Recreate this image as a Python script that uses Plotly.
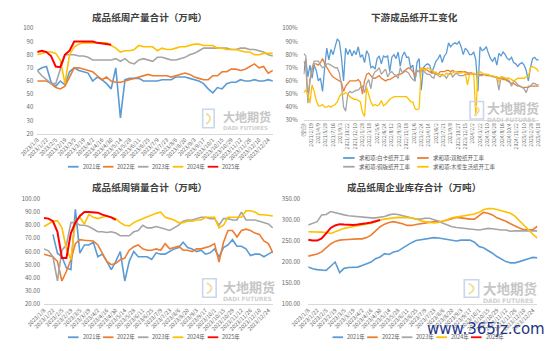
import pandas as pd
import plotly.graph_objects as go

W, H = 550, 351

# ---------------- data ----------------
WEEKS = [f"{d.year}/{d.month}/{d.day}" for d in pd.date_range("2023-01-08", periods=52, freq="7D")]
WEEK_TICKS = WEEKS[::2]
YEAR_NAMES = ["2021年", "2022年", "2023年", "2024年", "2025年"]
YEAR_COLORS = ["#5B9BD5", "#ED7D31", "#A5A5A5", "#FFC000", "#FF0000"]

# weekly output (10k t)
prod_2021 = [68, 70, 71, 59, 56, 60, 57, 67, 70, 68, 67, 66, 60, 63, 61, 58, 54, 70, 32, 61, 62, 62, 62, 60, 60, 60,
             60, 61, 61, 61, 63, 63, 63, 62, 61, 60, 58, 54, 51, 55, 54, 58, 59, 59, 61, 60, 60, 61, 60, 60, 61, 60]
prod_2022 = [60, 60, 60, 58, 55, 54, 56, 63, 70, 70, 69, 68, 67, 64, 61, 63, 60, 59, 59, 60, 61, 62, 63, 64, 65, 64,
             64, 64, 64, 63, 64, 65, 66, 65, 63, 62, 61, 61, 64, 64, 67, 67, 69, 69, 68, 69, 71, 73, 70, 71, 66, 68]
prod_2023 = [68, 64, 61, 58, 58, 70, 80, 80, 80, 79, 79, 78, 76, 76, 76, 76, 76, 77, 75, 77, 74, 73, 76, 77, 76, 75,
             78, 78, 77, 76, 76, 77, 78, 80, 81, 83, 85, 85, 85, 85, 85, 85, 84, 84, 85, 85, 84, 84, 83, 82, 80, 79]
prod_2024 = [80, 81, 82, 82, 81, 76, 58, 80, 86, 88, 89, 89, 89, 89, 89, 89, 87, 85, 82, 83, 83, 84, 87, 86, 86, 86,
             83, 85, 84, 84, 85, 86, 86, 87, 88, 88, 87, 87, 87, 85, 85, 84, 84, 84, 83, 82, 82, 80, 80, 81, 81, 81]
prod_2025 = [82, 83, 82, 79, 71, 70.5, 80, 83, 90, 90, 90, 90.5, 90, 89, 88.5, 88, 87.5]

# weekly sales (10k t)
sales_2021 = [None, None, 73, 58.7, 56, 47.5, 46.3, 92, 58.7, 65, 65, 67, 56, 58, 52.5, 46.3, 52.5, 60, 37.6, 52.5,
              60, 56, 56, 56, 54, 59, 58, 58, 60, 62, 63, 67, 63, 62, 60, 61, 58, 59, 62, 56, 63, 65, 69, 64, 64, 62,
              57, 58, 58, 56, 58, 60]
sales_2022 = [58, 57, 56, 52.5, 37.6, 45, 53.7, 66, 69, 68.5, 68.5, 68, 65, 58.7, 52.5, 50, 51, 53.7, 55, 61, 63.6,
              65, 62, 61, 61, 62, 61, 66, 62, 63, 64, 61, 61, 60, 62, 62, 63, 64, 66, 52, 67, 76, 76, 71, 76, 77, 76,
              74, 73, 68, 66, 59]
sales_2023 = [62, 60.5, 56, 37.6, 61, 65, 82, 82, 80, 80, 79, 77, 75, 75, 74.5, 75, 74, 72, 72, 72, 75, 76, 80, 78,
              78, 79, 78, 77, 76, 78, 80, 83, 84, 84, 85, 86, 86, 85, 85, 80, 85, 85, 84, 84, 90, 84, 84, 84, 83, 82,
              81, 78]
sales_2024 = [79, 81, 83, 83.5, 78, 62, 54, 83, 86, 81, 88, 86, 85, 86, 87, 86, 85, 82, 80, 79.5, 82, 83.5, 85, 86,
              88, 89, 90, 86, 85, 84, 82, 82, 83, 83, 84, 84, 86, 86, 86, 78, 80, 86, 86, 86, 86, 91, 91, 90, 88, 88,
              87.5, 87]
sales_2025 = [85.5, 85, 83, 75, 55, 55, 74, 82, 87, 90, 90, 89.5, 89.5, 88, 87, 86, 84]

# weekly inventory (10k t)
inv_2021 = [188, 184, 182, 181, 180, 190, 200, 175, 185, 187, 188, 188, 192, 196, 200, 208, 212, 220, 218, 224, 226,
            233, 240, 246, 251, 253, 255, 257, 258, 257, 255, 253, 251, 250, 252, 252, 252, 247, 237, 234, 228, 221,
            213, 206, 201, 198, 198, 201, 205, 208, 211, 210]
inv_2022 = [214, 216, 219, 224, 233, 243, 249, 252, 253, 254, 254, 255, 255, 258, 264, 274, 284, 290, 294, 296, 294,
            291, 287, 287, 289, 291, 293, 295, 296, 296, 297, 300, 303, 306, 305, 303, 302, 302, 310, 318, 316, 312,
            305, 301, 297, 291, 285, 281, 277, 276, 277, 285]
inv_2023 = [288, 292, 296, 312, 313, 320, 317, 314, 312, 310, 309, 307, 306, 305, 305, 305, 306, 308, 312, 314, 313,
            310, 307, 304, 302, 302, 304, 304, 301, 297, 292, 288, 284, 282, 281, 280, 279, 278, 276, 278, 280, 279,
            277, 276, 276, 273, 274, 274, 274, 274, 273, 274]
inv_2024 = [272, 272, 272, 271, 270, 268, 272, 277, 280, 282, 284, 286, 287, 289, 292, 296, 300, 302, 304, 305, 306,
            306, 306, 305, 302, 298, 296, 294, 293, 294, 297, 301, 305, 307, 309, 311, 312, 314, 318, 324, 327, 327,
            325, 322, 320, 316, 309, 298, 286, 276, 266, 257]
inv_2025 = [253, 251, 251, 256, 268, 281, 287, 290, 289, 288, 288, 289, 290, 292, 294, 297, 300]

# downstream operating rates (%), sampled every two weeks
OP_DATES = [d.strftime("%Y-%m-%d") for d in pd.date_range("2021-01-01", periods=113, freq="14D")]
OP_TICK_DATES = [d.strftime("%Y-%m-%d") for d in pd.date_range("2021-01-01", periods=33, freq="49D")]
OP_TICK_TEXT = ["(空白)", "2021/2/19", "2021/4/9", "2021/5/28", "2021/7/16", "2021/9/3", "2021/10/22",
                "2021/12/10", "2022/1/28", "2022/3/18", "2022/5/6", "2022/6/24", "2022/8/12", "2022/9/30",
                "2022/11/18", "2023/1/6", "2023/2/24", "2023/4/14", "2023/6/2", "2023/7/21", "2023/9/8",
                "2023/10/27", "2023/12/15", "2024/2/2", "2024/3/22", "2024/5/10", "2024/6/28", "2024/8/16",
                "2024/10/4", "2024/11/22", "2025/1/10", "2025/2/28", "2025/4/18"]
OP_NAMES = ["求和项:白卡纸开工率", "求和项:双胶纸开工率", "求和项:铜版纸开工率", "求和项:木浆生活纸开工率"]
OP_COLORS = ["#5B9BD5", "#ED7D31", "#A5A5A5", "#FFC000"]

op_white = [65, 77, 63, 72, 62, 72, 68, 60, 62, 52,
            70, 85, 76, 84, 80, 86, 92, 90, 78, 60,
            85, 80, 84, 79, 83, 80, 86, 78, 80, 74,
            83, 80, 70, 71, 69, 77, 79, 73, 79, 78,
            79, 67, 78, 80, 77, 82, 71, 79, 82, 78,
            78, 70, 72, 60, 74, 77, 53, 70, 72, 73,
            72, 66, 70, 75, 77, 80, 74, 79, 81, 89,
            86, 88, 89, 88, 90, 86, 80, 85, 83, 80,
            80, 82, 76, 52, 86, 83, 84, 86, 81, 77,
            75, 78, 72, 81, 79, 82, 80, 77, 76, 78,
            74, 73, 71, 73, 74, 72, 68, 60, 70, 77,
            78, 76, 76]
op_dbl = [75, 72, 46, 61, 68, 73, 73, 72, 74, 77,
          73, 70, 68, 65, 63, 62, 61, 60, 59, 52,
          56, 58, 60, 60, 60, 60, 61, 59, 50, 60,
          65, 66, 64, 62, 62, 63, 64, 62, 61, 60,
          61, 61, 62, 63, 64, 65, 65, 66, 67, 69,
          70, 69, 67, 64, 68, 67, 68, 70, 69, 68,
          67, 66, 66, 65, 65, 67, 67, 67, 68, 68,
          67, 68, 67, 67, 67, 67, 67, 67, 66, 66,
          66, 65, 65, 65, 65, 65, 65, 64, 64, 64,
          64, 63, 63, 62, 62, 61, 61, 60, 59, 58,
          58, 57, 56, 56, 55, 55, 55, 55, 56, 56,
          56, 56, 56]
op_coat = [81, 79, 43, 60, 70, 75, 75, 75, 72, 70,
           71, 73, 73, 72, 71, 70, 70, 66, 57, 40,
           37, 50, 52, 51, 52, 53, 53, 55, 56, 51,
           58, 61, 54, 64, 67, 68, 70, 65, 67, 69,
           63, 66, 67, 65, 64, 62, 70, 66, 68, 67,
           66, 63, 61, 60, 68, 67, 67, 68, 66, 65,
           65, 63, 62, 67, 64, 63, 65, 64, 62, 65,
           66, 63, 65, 66, 64, 64, 64, 65, 65, 65,
           65, 65, 65, 65, 64, 64, 65, 65, 64, 64,
           63, 63, 62, 53, 63, 62, 62, 61, 60, 56,
           60, 59, 57, 56, 55, 54, 51, 56, 56, 58,
           58, 57, 57]
op_tissue = [51, 53, 50, 43, 57, 52, 45, 41, 41, 42,
             40, 40, 41, 40, 41, 42, 44, 48, 50, 50,
             51, 50, 48, 47, 46, 46, 45, 44, 36, 33,
             55, 50, 44, 41, 42, 41, 42, 45, 41, 42,
             44, 46, 47, 48, 48, 48, 48, 48, 48, 48,
             46, 44, 44, 39, 38, 39, 70, 69, 68, 70,
             69, 68, 67, 66, 65, 65, 64, 64, 66, 65,
             65, 66, 67, 67, 66, 66, 67, 66, 57, 65,
             65, 66, 33, 67, 67, 66, 65, 65, 65, 64,
             64, 63, 63, 59, 63, 63, 62, 62, 62, 61,
             60, 61, 62, 62, 62, 62, 63, 63, 70, 71,
             70, 69, 67]

# ---------------- figure ----------------
FONT = "Noto Sans CJK SC"
TICK_COLOR = "#666666"
fig = go.Figure()


def add_years(series, xa, ya):
    for name, color, vals in zip(YEAR_NAMES, YEAR_COLORS, series):
        fig.add_trace(go.Scatter(
            x=WEEKS[:len(vals)], y=vals, mode="lines", name=name,
            line=dict(color=color, width=2.0 if name == "2025年" else 1.6),
            xaxis=xa, yaxis=ya, showlegend=False, connectgaps=False))


add_years([prod_2021, prod_2022, prod_2023, prod_2024, prod_2025], "x", "y")
for name, color, vals in zip(OP_NAMES, OP_COLORS, [op_white, op_dbl, op_coat, op_tissue]):
    fig.add_trace(go.Scatter(x=OP_DATES, y=vals, mode="lines", name=name,
                             line=dict(color=color, width=1.3), xaxis="x2", yaxis="y2", showlegend=False))
add_years([sales_2021, sales_2022, sales_2023, sales_2024, sales_2025], "x3", "y3")
add_years([inv_2021, inv_2022, inv_2023, inv_2024, inv_2025], "x4", "y4")


def px(x):
    return x / W


def py(y):
    return 1 - y / H


def xcat(domain_px):
    return dict(type="category", domain=[px(domain_px[0]), px(domain_px[1])], range=[0, len(WEEKS) - 1],
                tickmode="array", tickvals=WEEK_TICKS, tickangle=-45, ticks="", showgrid=False,
                showline=True, linecolor="#d9d9d9", linewidth=1, zeroline=False,
                tickfont=dict(family=FONT, size=5.5, color=TICK_COLOR))


def yax(domain_px, rng, dtick, anchor, fmt=None, suffix=None, standoff=3):
    d = dict(domain=[py(domain_px[1]), py(domain_px[0])], range=rng, dtick=dtick, tick0=rng[0],
             showgrid=False, showline=False, zeroline=False, ticks="", anchor=anchor,
             ticklabelstandoff=standoff,
             tickfont=dict(family=FONT, size=6, color=TICK_COLOR))
    if fmt:
        d["tickformat"] = fmt
    if suffix:
        d["ticksuffix"] = suffix
    return d


x1 = xcat((20, 265)); x1["anchor"] = "y"
x3 = xcat((27, 265)); x3["anchor"] = "y3"
x4 = xcat((301.7, 540)); x4["anchor"] = "y4"
x2 = dict(type="date", domain=[px(297), px(541.5)], range=[OP_DATES[0], OP_DATES[-1]], anchor="y2",
          tickmode="array", tickvals=OP_TICK_DATES, ticktext=OP_TICK_TEXT, tickangle=-90, ticks="",
          showgrid=False, showline=True, linecolor="#d9d9d9", linewidth=1, zeroline=False,
          tickfont=dict(family=FONT, size=5, color=TICK_COLOR))

fig.update_layout(
    width=W, height=H, margin=dict(l=0, r=0, t=0, b=0),
    paper_bgcolor="white", plot_bgcolor="white", showlegend=False,
    font=dict(family=FONT),
    xaxis=x1, yaxis=yax((24, 132), [20, 100], 10, "x"),
    xaxis2=x2, yaxis2=yax((24, 118.3), [30, 100], 10, "x2", suffix="%", standoff=5),
    xaxis3=x3, yaxis3=yax((199, 307), [20, 100], 10, "x3", fmt=".2f"),
    xaxis4=x4, yaxis4=yax((199, 307), [100, 350], 50, "x4", fmt=".2f", standoff=7),
)

shapes = []
annotations = []

# titles
for text, cx, cy in [("成品纸周产量合计（万吨）", 137, 12), ("下游成品纸开工变化", 412, 12),
                     ("成品纸周销量合计（万吨）", 137, 187), ("成品纸周企业库存合计（万吨）", 412, 187)]:
    annotations.append(dict(text=text, x=px(cx), y=py(cy), xref="paper", yref="paper", showarrow=False,
                            xanchor="center", yanchor="middle",
                            font=dict(family=FONT, size=9.6, color="#404040", weight="bold")))


# watermark logos
def logo(ix, iy, iw, ih, tx, ty, size):
    shapes.append(dict(type="rect", xref="paper", yref="paper", x0=px(ix), x1=px(ix + iw), y0=py(iy + ih),
                       y1=py(iy), line=dict(color="#c9d7ec", width=1.6)))
    path = (f"M {px(ix + iw * 0.3)},{py(iy + ih * 0.22)} Q {px(ix + iw * 1.0)},{py(iy + ih * 0.5)} "
            f"{px(ix + iw * 0.3)},{py(iy + ih * 0.8)}")
    shapes.append(dict(type="path", xref="paper", yref="paper", path=path,
                       line=dict(color="#f2dfa3", width=2)))
    annotations.append(dict(text="大地期货", x=px(tx), y=py(ty), xref="paper", yref="paper", showarrow=False,
                            xanchor="left", yanchor="middle", borderpad=0,
                            font=dict(family=FONT, size=size, color="#c6c6c6", weight="bold")))
    annotations.append(dict(text="DADI FUTURES", x=px(tx), y=py(ty + size * 0.92 + 0.8), xref="paper",
                            yref="paper", showarrow=False, xanchor="left", yanchor="middle", borderpad=0,
                            font=dict(family="DejaVu Sans", size=size * 0.45, color="#cfcfcf", weight="bold")))


logo(192, 107, 12, 19, 212, 114, 12)
logo(470, 99, 14, 18, 487, 105.5, 13)
logo(192, 281, 14, 19, 212, 289, 13)
logo(464, 282, 15, 18, 482, 290, 13.5)


# legends
def legend(items, x0, step, y, seg=11, gap=2):
    for j, (name, color) in enumerate(items):
        xs = x0 + step * j
        shapes.append(dict(type="line", xref="paper", yref="paper", x0=px(xs), x1=px(xs + seg),
                           y0=py(y), y1=py(y), line=dict(color=color, width=1.8)))
        annotations.append(dict(text=name, x=px(xs + seg + gap), y=py(y), xref="paper", yref="paper",
                                xanchor="left", yanchor="middle", showarrow=False,
                                font=dict(family=FONT, size=5.5, color="#595959")))


year_items = list(zip(YEAR_NAMES, YEAR_COLORS))
legend(year_items, 52, 36.3, 166)
legend(year_items, 52, 36.3, 341)
legend(year_items, 327, 36, 341)
op_items = list(zip(OP_NAMES, OP_COLORS))
legend(op_items[:2], 338, 77, 157, seg=12)
legend(op_items[2:], 338, 77, 166, seg=12)

# site watermark (overlays the lower-right legend, as in the source image)
annotations.append(dict(text="www.365jz.com", x=px(487), y=py(333), xref="paper", yref="paper",
                        showarrow=False, xanchor="center", yanchor="middle",
                        font=dict(family="DejaVu Sans", size=15, color="#1d3486")))

fig.update_layout(shapes=shapes, annotations=annotations)
fig.write_html("out.html")
